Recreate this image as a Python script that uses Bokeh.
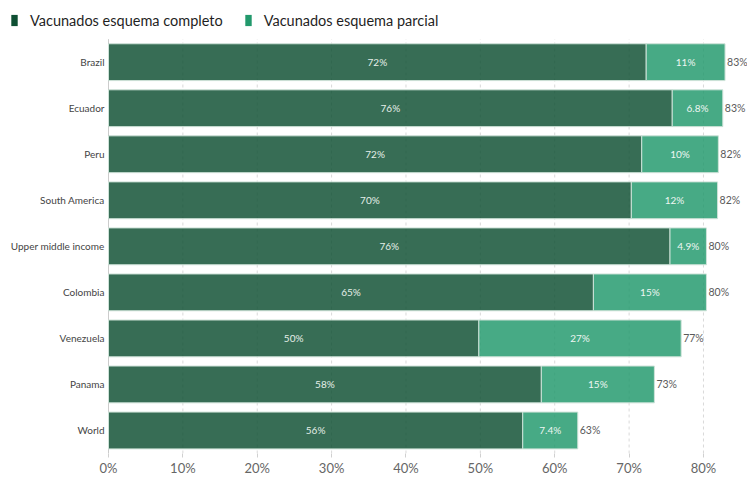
from bokeh.plotting import figure
from bokeh.models import ColumnDataSource, Legend, LegendItem, Range1d, FixedTicker
from bokeh.core.properties import value
from bokeh.embed import file_html
from bokeh.resources import INLINE

countries = ["Brazil", "Ecuador", "Peru", "South America", "Upper middle income",
             "Colombia", "Venezuela", "Panama", "World"]
complete = [72.3, 75.8, 71.7, 70.3, 75.5, 65.2, 49.8, 58.2, 55.7]
partial = [10.6, 6.8, 10.3, 11.6, 4.9, 15.2, 27.2, 15.2, 7.4]
complete_labels = ["72%", "76%", "72%", "70%", "76%", "65%", "50%", "58%", "56%"]
partial_labels = ["11%", "6.8%", "10%", "12%", "4.9%", "15%", "27%", "15%", "7.4%"]
total_labels = ["83%", "83%", "82%", "82%", "80%", "80%", "77%", "73%", "63%"]
x_ticks = [0, 10, 20, 30, 40, 50, 60, 70, 80]

DARK = "#0e4f33"
LIGHT = "#22996c"

n = len(countries)
ypos = list(range(n - 1, -1, -1))
totals = [c + q for c, q in zip(complete, partial)]
src = ColumnDataSource(dict(
    y=ypos, country=countries, complete=complete, partial=partial, total=totals,
    cmid=[c / 2 for c in complete], pmid=[c + q / 2 for c, q in zip(complete, partial)],
    zero=[0] * n,
    clab=complete_labels, plab=partial_labels, tlab=total_labels,
))

p = figure(width=747, height=478, output_backend="svg", toolbar_location=None,
           x_range=Range1d(-14.52, 85.92), y_range=Range1d(-0.5, n - 0.5 + 0.84),
           y_axis_location=None,
           min_border_left=0, min_border_right=0, min_border_top=0, min_border_bottom=0)
p.outline_line_color = None
p.xgrid.visible = False
p.ygrid.visible = False

# dashed vertical grid lines and left axis line
p.segment(x0=x_ticks, y0=[-0.5] * len(x_ticks), x1=x_ticks, y1=[n - 0.5] * len(x_ticks),
          line_color="#d9d9d9", line_dash="3 3", line_width=1)
p.segment(x0=[0], y0=[-0.5], x1=[0], y1=[n - 0.5], line_color="#cccccc", line_width=1)

r1 = p.hbar(y="y", left="zero", right="complete", height=0.8, source=src,
            fill_color=DARK, fill_alpha=0.83, line_color="#cfe3d9", line_width=1)
r2 = p.hbar(y="y", left="complete", right="total", height=0.8, source=src,
            fill_color=LIGHT, fill_alpha=0.83, line_color="#cfe3d9", line_width=1)

p.text(x="cmid", y="y", text="clab", source=src, text_align="center",
       text_baseline="middle", text_color="#e6efe9", text_font=value("Lato"),
       text_font_size="10px")
p.text(x="pmid", y="y", text="plab", source=src, text_align="center",
       text_baseline="middle", text_color="#eef6f2", text_font=value("Lato"),
       text_font_size="10px")
p.text(x="total", y="y", text="tlab", source=src, text_align="left",
       text_baseline="middle", text_color="#5a5a5a", text_font=value("Lato"),
       text_font_size="10.5px", x_offset=2)
# category labels
p.text(x="zero", y="y", text="country", source=src, text_align="right",
       text_baseline="middle", text_color="#444444", text_font=value("Lato"),
       text_font_size="10px", x_offset=-4)

p.xaxis.ticker = FixedTicker(ticks=x_ticks)
p.xaxis.major_label_overrides = {t: f"{t}%" for t in x_ticks}
p.xaxis.axis_line_color = None
p.xaxis.major_tick_line_color = "#d0d0d0"
p.xaxis.major_tick_out = 4
p.xaxis.major_tick_in = 0
p.xaxis.minor_tick_line_color = None
p.xaxis.major_label_standoff = 2
p.xaxis.major_label_text_font = "Lato"
p.xaxis.major_label_text_font_size = "13px"
p.xaxis.major_label_text_color = "#666666"

# legend proxies (opaque colours, zero-size marks)
l1 = p.rect(x=[0], y=[0], width=0, height=0, fill_color=DARK, line_color=None)
l2 = p.rect(x=[0], y=[0], width=0, height=0, fill_color=LIGHT, line_color=None)
legend = Legend(items=[LegendItem(label="Vacunados esquema completo", renderers=[l1]),
                       LegendItem(label="Vacunados esquema parcial", renderers=[l2])],
                orientation="horizontal", location="top_left", glyph_width=8, glyph_height=14,
                label_height=20, label_text_font="Lato", label_text_font_size="14.5px",
                label_text_color="#1f1f1f", label_text_baseline="middle",
                padding=0, margin=10, spacing=21, label_standoff=12,
                border_line_color=None, background_fill_alpha=0)
p.add_layout(legend)

open("out.html", "w").write(file_html(p, INLINE))
